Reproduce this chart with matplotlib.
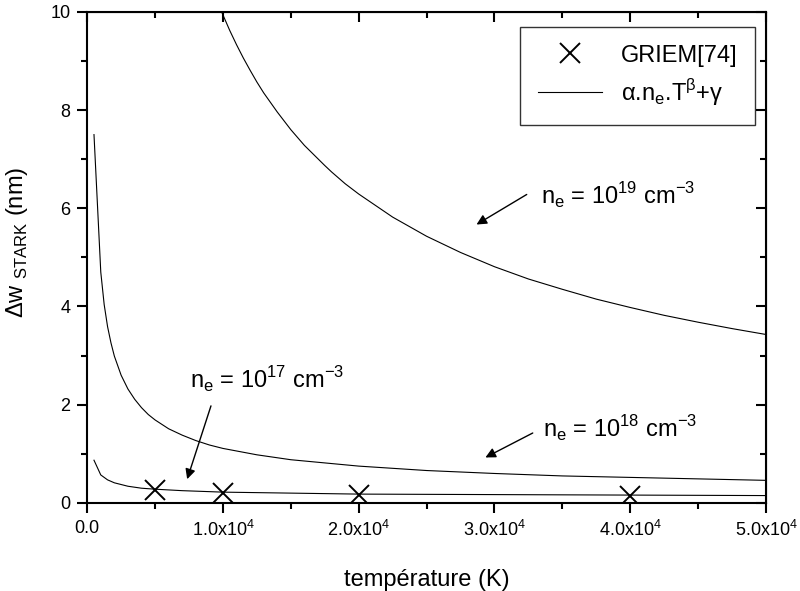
import matplotlib.pyplot as plt
from matplotlib.ticker import MultipleLocator

plt.rcParams['font.family'] = ['Liberation Sans', 'DejaVu Sans']
plt.rcParams['mathtext.fontset'] = 'custom'
plt.rcParams['mathtext.rm'] = 'Liberation Sans'

# courbes alpha.ne.T^beta+gamma
T19 = [9900, 10500, 11000, 11500, 12000, 12500, 13000, 14000, 15000, 16000, 17500, 18000,
       19000, 20000, 22500, 25000, 27500, 30000, 32500, 35000, 37500, 40000, 42500,
       45000, 47500, 50000]
w19 = [10.0, 9.62, 9.33, 9.06, 8.81, 8.57, 8.35, 7.96, 7.60, 7.28, 6.87, 6.74,
       6.50, 6.29, 5.82, 5.43, 5.10, 4.81, 4.56, 4.35, 4.15, 3.98, 3.82,
       3.68, 3.55, 3.43]

T18 = [500, 1000, 1250, 1500, 1750, 2000, 2500, 3000, 3500, 4000, 4500, 5000, 6000, 7000,
       8000, 9000, 10000, 12500, 15000, 20000, 25000, 30000, 35000, 40000, 45000, 50000]
w18 = [7.50, 4.70, 4.04, 3.59, 3.26, 2.99, 2.60, 2.32, 2.11, 1.94, 1.80, 1.69, 1.51, 1.38,
       1.27, 1.18, 1.11, 0.98, 0.88, 0.75, 0.66, 0.60, 0.55, 0.52, 0.49, 0.46]

T17 = [500, 1000, 1500, 2000, 3000, 4000, 5000, 7000, 10000, 15000, 20000, 30000, 40000, 50000]
w17 = [0.87, 0.57, 0.47, 0.41, 0.34, 0.30, 0.28, 0.25, 0.22, 0.20, 0.18, 0.17, 0.16, 0.15]

# GRIEM[74]
T_griem = [5000, 10000, 20000, 40000]
w_griem = [0.27, 0.21, 0.17, 0.15]

xticks = [0, 10000, 20000, 30000, 40000, 50000]
xlabels = ['0.0', '1.0x10$^\\mathregular{4}$', '2.0x10$^\\mathregular{4}$',
           '3.0x10$^\\mathregular{4}$', '4.0x10$^\\mathregular{4}$', '5.0x10$^\\mathregular{4}$']

fig = plt.figure(figsize=(8, 5.91), dpi=100)
ax = fig.add_axes([0.109, 0.149, 0.8485, 0.831])

ax.plot(T_griem, w_griem, 'x', color='black', ms=14, mew=1.4, label='GRIEM[74]')
ax.plot(T19, w19, color='black', lw=0.8, label='α.n$_\\mathregular{e}$.T$^\\mathregular{β}$+γ')
ax.plot(T18, w18, color='black', lw=0.8)
ax.plot(T17, w17, color='black', lw=0.8)

ax.set_xlim(0, 50000)
ax.set_ylim(0, 10)
ax.set_xticks(xticks)
ax.set_xticklabels(xlabels)
ax.xaxis.set_minor_locator(MultipleLocator(5000))
ax.yaxis.set_major_locator(MultipleLocator(2))
ax.yaxis.set_minor_locator(MultipleLocator(1))
ax.tick_params(which='major', direction='out', length=7, width=1.5, labelsize=13, pad=5)
ax.tick_params(which='minor', direction='out', length=4, width=1.5)
for s in ax.spines.values():
    s.set_linewidth(1.5)

# ticks vers l'intérieur en haut et à droite
top = ax.secondary_xaxis('top')
top.set_xticks(xticks)
top.xaxis.set_minor_locator(MultipleLocator(5000))
top.tick_params(which='both', direction='in', labeltop=False, width=1.5)
top.tick_params(which='major', length=7)
top.tick_params(which='minor', length=4)
right = ax.secondary_yaxis('right')
right.yaxis.set_major_locator(MultipleLocator(2))
right.yaxis.set_minor_locator(MultipleLocator(1))
right.tick_params(which='both', direction='in', labelright=False, width=1.5)
right.tick_params(which='major', length=7)
right.tick_params(which='minor', length=4)

ax.set_xlabel('température (K)', fontsize=17)
ax.xaxis.set_label_coords(0.5, -0.135)
ax.set_ylabel('Δw $_\\mathregular{STARK}$ (nm)', fontsize=17)
ax.yaxis.set_label_coords(-0.085, 0.53)

leg = ax.legend(loc='upper right', fontsize=17, frameon=True, fancybox=False,
                edgecolor='black', borderpad=0.75, handlelength=2.7, labelspacing=0.4,
                borderaxespad=0, bbox_to_anchor=(0.984, 0.969))
leg.get_frame().set_linewidth(1.0)

arrow = dict(arrowstyle='-|>', color='black', lw=1, mutation_scale=15)
ax.annotate('', xy=(28500, 5.64), xytext=(32550, 6.31), arrowprops=arrow)
ax.text(33400, 6.25, 'n$_\\mathregular{e}$ = 10$^\\mathregular{19}$ cm$^\\mathregular{-3}$',
        fontsize=17, va='center')
ax.annotate('', xy=(29150, 0.90), xytext=(33000, 1.45), arrowprops=arrow)
ax.text(33600, 1.5, 'n$_\\mathregular{e}$ = 10$^\\mathregular{18}$ cm$^\\mathregular{-3}$',
        fontsize=17, va='center')
ax.annotate('', xy=(7300, 0.43), xytext=(9180, 2.03), arrowprops=arrow)
ax.text(7600, 2.5, 'n$_\\mathregular{e}$ = 10$^\\mathregular{17}$ cm$^\\mathregular{-3}$',
        fontsize=17, va='center')

plt.savefig('out.png', dpi=100)
